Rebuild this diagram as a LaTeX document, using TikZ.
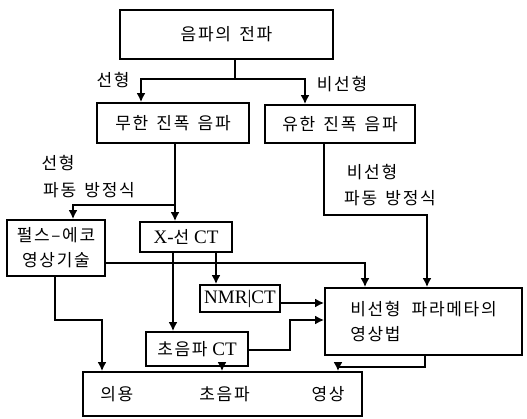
\documentclass[tikz,border=0pt]{standalone}
\usepackage{fontspec}
\setmainfont{Liberation Serif}
\newfontfamily\kr[LetterSpace=10,WordSpace=1.5]{Noto Sans CJK KR}
\newfontfamily\lat[Scale=1.12]{Liberation Serif}
\usetikzlibrary{arrows.meta}
\begin{document}
\begin{tikzpicture}[x=1pt,y=-1pt,
  box/.style={draw,line width=1.8pt,inner sep=0pt,align=center,font=\kr\fontsize{17}{25}\selectfont},
  lbl/.style={inner sep=0pt,align=left,font=\kr\fontsize{17}{27}\selectfont},
  ln/.style={line width=1.8pt},
  arr/.style={line width=1.8pt,-{Latex[length=9pt,width=9pt]}}]
\useasboundingbox (0,0) rectangle (527,419);
% boxes
\node[box,minimum width=213pt,minimum height=49pt] (top) at (226.5,34.5) {음파의 전파};
\node[box,minimum width=152pt,minimum height=40pt] (inf) at (173,123) {무한 진폭 음파};
\node[box,minimum width=150pt,minimum height=38pt] (fin) at (340,124) {유한 진폭 음파};
\node[box,minimum width=98pt,minimum height=56pt] (pulse) at (56,248) {펄스–에코\\영상기술};
\node[box,minimum width=92pt,minimum height=30pt] (xct) at (186,237) {{\lat X-}선{\lat\ CT}};
\node[box,minimum width=80pt,minimum height=27pt] (nmr) at (240,298.5) {\lat NMR|CT};
\node[box,align=left,minimum width=197pt,minimum height=67pt] (nlp) at (423.5,321.5) {비선형 \,파라메타의\\영상법};
\node[box,minimum width=102pt,minimum height=34pt] (uct) at (197,349) {초음파{\lat\ CT}};
\node[box,minimum width=279pt,minimum height=44pt] (app) at (222.5,394) {의용\hspace{66pt}초음파\hspace{62pt}영상};
% labels
\node[lbl] (l1) at (113,80) {선형};
\node[lbl] (l2) at (342,84) {비선형};
\node[lbl] (l3) at (58,163) {선형};
\node[lbl] (l4) at (89,190) {파동 방정식};
\node[lbl] (l5) at (372,172) {비선형};
\node[lbl] (l6) at (390,198) {파동 방정식};
% junctions
\coordinate (j1) at (235,79);
\coordinate (jl) at (141,79);
\coordinate (jr) at (305,79);
\coordinate (j2) at (175,205);
\coordinate (j3) at (73,205);
\coordinate (j4) at (324,215);
\coordinate (j5) at (427,215);
\coordinate (j6) at (365,263);
\coordinate (j7) at (173,300);
\coordinate (jn) at (216,270);
\coordinate (j8) at (55,320);
\coordinate (j9) at (102,320);
\coordinate (j10) at (300,303);
\coordinate (j11) at (290,350);
\coordinate (j12) at (290,320);
\coordinate (j13) at (222,370);
\coordinate (j14) at (425,367);
\coordinate (j15) at (338,367);
% connectors
\draw[ln] (top.south -| j1) -- (j1);
\draw[arr] (j1) -- (jl) -- (inf.north -| jl);
\draw[arr] (j1) -- (jr) -- (fin.north -| jr);
\draw[arr] (inf.south -| j2) -- (xct.north -| j2);
\draw[arr] (j2) -- (j3) -- (pulse.north -| j3);
\draw[arr] (fin.south -| j4) -- (j4) -- (j5) -- (nlp.north -| j5);
\draw[arr] (pulse.east |- j6) -- (j6) -- (nlp.north -| j6);
\draw[arr] (xct.south -| j7) -- (uct.north -| j7);
\draw[arr] (xct.south -| jn) -- (nmr.north -| jn);
\draw[arr] (pulse.south -| j8) -- (j8) -- (j9) -- (app.north -| j9);
\draw[arr] (nmr.east |- j10) -- (nlp.west |- j10);
\draw[arr] (uct.east |- j11) -- (j11) -- (j12) -- (nlp.west |- j12);
\draw[arr] (uct.south -| j13) -- (app.north -| j13);
\draw[arr] (nlp.south -| j14) -- (j14) -- (j15) -- (app.north -| j15);
\end{tikzpicture}
\end{document}
